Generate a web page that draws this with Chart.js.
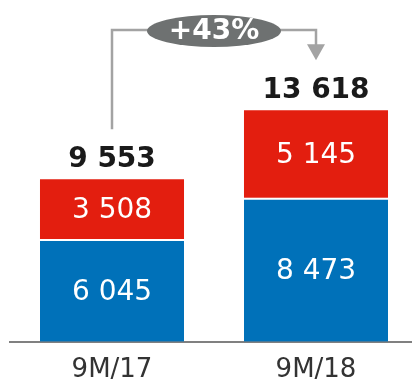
<!DOCTYPE html>
<html>
<head>
<meta charset="utf-8">
<script src="https://cdn.jsdelivr.net/npm/chart.js@4/dist/chart.umd.min.js"></script>
<style>
  html, body { margin: 0; padding: 0; background: #fff; overflow: hidden; }
  #wrap { width: 418px; height: 399px; position: relative; }
</style>
</head>
<body>
<div id="wrap"><canvas id="grafico"></canvas></div>
<script>
const periodos = ['9M/17', '9M/18'];
const valoresAzul = [6045, 8473];
const valoresRojo = [3508, 5145];
const totales = [9553, 13618];
const crecimiento = '+43%';

const fmt = v => String(v).replace(/\B(?=(\d{3})+(?!\d))/g, ' ');
const FUENTE = '"DejaVu Sans", Verdana, sans-serif';

// etiquetas dentro de las barras, totales y flecha de crecimiento
const etiquetas = {
  id: 'etiquetas',
  afterDatasetsDraw(chart) {
    const ctx = chart.ctx;
    ctx.save();
    ctx.textAlign = 'center';
    ctx.textBaseline = 'middle';
    ctx.fillStyle = '#fff';
    ctx.font = '28px ' + FUENTE;
    chart.data.datasets.forEach((ds, i) => {
      chart.getDatasetMeta(i).data.forEach((bar, j) => {
        const y = (bar.y + bar.base) / 2 + 2;
        ctx.fillText(fmt(ds.data[j]), bar.x, y);
      });
    });

    const tops = chart.getDatasetMeta(1).data;
    ctx.fillStyle = '#1a1a1a';
    ctx.font = 'bold 28px ' + FUENTE;
    ctx.textBaseline = 'alphabetic';
    tops.forEach((bar, j) => ctx.fillText(fmt(totales[j]), bar.x, bar.y - 12));

    // conector
    const a = tops[0], b = tops[1];
    const yLinea = 30;
    ctx.strokeStyle = '#a3a3a3';
    ctx.lineWidth = 2.5;
    ctx.beginPath();
    ctx.moveTo(a.x, a.y - 50);
    ctx.lineTo(a.x, yLinea);
    ctx.lineTo(b.x, yLinea);
    ctx.lineTo(b.x, b.y - 65);
    ctx.stroke();
    ctx.fillStyle = '#a3a3a3';
    ctx.beginPath();
    ctx.moveTo(b.x - 9, b.y - 66);
    ctx.lineTo(b.x + 9, b.y - 66);
    ctx.lineTo(b.x, b.y - 50);
    ctx.closePath();
    ctx.fill();

    const cx = (a.x + b.x) / 2;
    ctx.fillStyle = '#6e7171';
    ctx.beginPath();
    ctx.ellipse(cx, yLinea + 1, 67, 16, 0, 0, Math.PI * 2);
    ctx.fill();
    ctx.fillStyle = '#fff';
    ctx.font = 'bold 28px ' + FUENTE;
    ctx.textBaseline = 'middle';
    ctx.fillText(crecimiento, cx, yLinea + 2);
    ctx.restore();
  }
};

new Chart(document.getElementById('grafico'), {
  type: 'bar',
  data: {
    labels: periodos,
    datasets: [
      {
        data: valoresAzul,
        backgroundColor: '#0071b9',
        borderColor: '#fff',
        borderWidth: { top: 2 },
        borderSkipped: false
      },
      {
        data: valoresRojo,
        backgroundColor: '#e31e0f'
      }
    ]
  },
  options: {
    responsive: true,
    maintainAspectRatio: false,
    animation: false,
    layout: { padding: { left: 10, right: 0, top: 0, bottom: 0 } },
    plugins: { legend: { display: false }, tooltip: { enabled: false } },
    datasets: { bar: { barPercentage: 0.706, categoryPercentage: 1 } },
    scales: {
      x: {
        stacked: true,
        grid: { display: false, drawTicks: false },
        border: { display: true, color: '#808080', width: 2 },
        ticks: { color: '#333', font: { family: FUENTE, size: 26 }, padding: 13 }
      },
      y: {
        stacked: true,
        display: false,
        min: 0,
        max: 20100
      }
    }
  },
  plugins: [etiquetas]
});
</script>
</body>
</html>
